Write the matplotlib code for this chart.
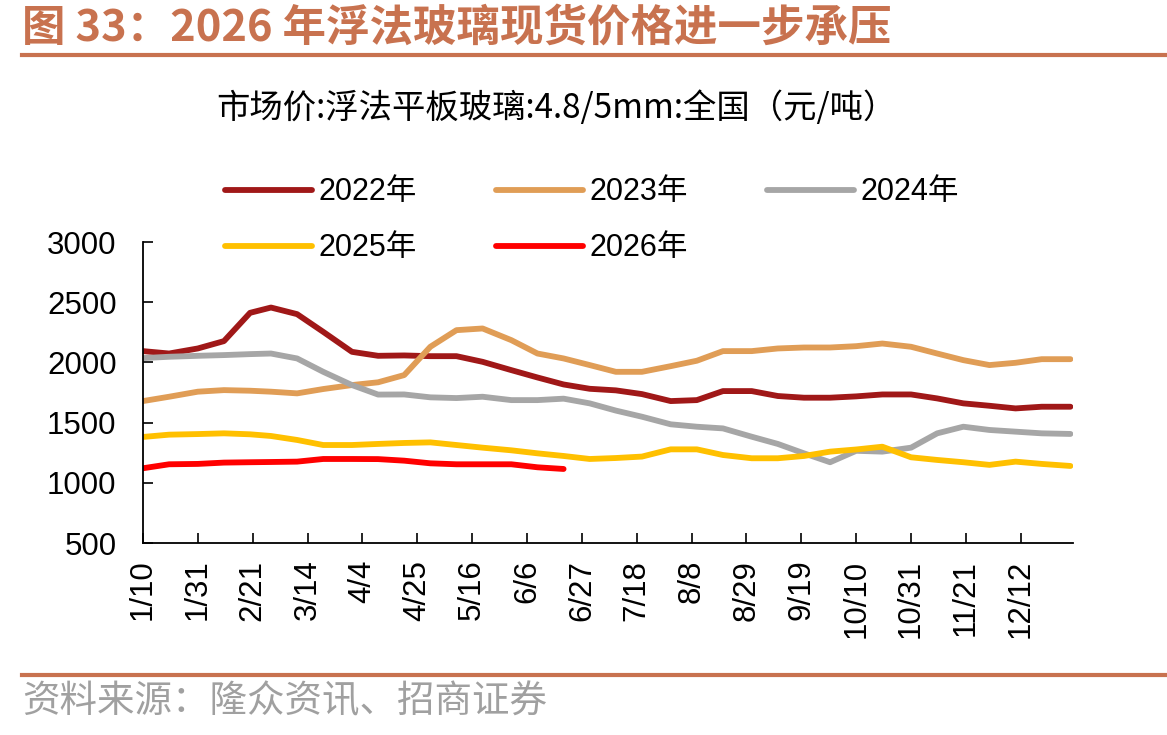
import pandas as pd
import matplotlib
matplotlib.use('Agg')
from matplotlib import pyplot as plt
from matplotlib.lines import Line2D

# 10-day (旬) observations: 10th, 20th and end of each month
dates = ['1/10', '1/20', '1/31', '2/10', '2/20', '2/28', '3/10', '3/20', '3/31',
         '4/10', '4/20', '4/30', '5/10', '5/20', '5/31', '6/10', '6/20', '6/30',
         '7/10', '7/20', '7/31', '8/10', '8/20', '8/31', '9/10', '9/20', '9/30',
         '10/10', '10/20', '10/31', '11/10', '11/20', '11/30', '12/10', '12/20', '12/31']

y2022 = [2094, 2074, 2116, 2177, 2412, 2456, 2401, 2254, 2088, 2055,
         2058, 2052, 2052, 2005, 1936, 1875, 1817, 1781, 1768, 1737,
         1679, 1687, 1762, 1762, 1721, 1707, 1707, 1718, 1734, 1734,
         1701, 1660, 1640, 1618, 1632, 1632]
y2023 = [1679, 1715, 1757, 1770, 1765, 1757, 1743, 1779, 1812, 1835,
         1895, 2130, 2268, 2282, 2185, 2074, 2033, 1978, 1922, 1922,
         1969, 2014, 2094, 2094, 2116, 2124, 2124, 2135, 2157, 2130,
         2074, 2019, 1978, 1997, 2027, 2027]
y2024 = [2036, 2047, 2055, 2061, 2069, 2074, 2033, 1922, 1812, 1733,
         1734, 1710, 1704, 1715, 1687, 1687, 1699, 1660, 1600, 1549,
         1486, 1466, 1452, 1383, 1323, 1245, 1171, 1266, 1259, 1292,
         1411, 1466, 1439, 1425, 1411, 1406]
y2025 = [1381, 1400, 1405, 1411, 1403, 1389, 1356, 1314, 1314, 1323,
         1331, 1336, 1314, 1292, 1270, 1245, 1223, 1198, 1206, 1218,
         1278, 1278, 1231, 1204, 1204, 1223, 1259, 1277, 1300, 1212,
         1190, 1171, 1149, 1176, 1157, 1140]
y2026 = [1121, 1154, 1157, 1168, 1171, 1173, 1176, 1198, 1198, 1197,
         1184, 1162, 1154, 1154, 1154, 1129, 1115]

tick_labels = ['1/10', '1/31', '2/21', '3/14', '4/4', '4/25', '5/16', '6/6', '6/27',
               '7/18', '8/8', '8/29', '9/19', '10/10', '10/31', '11/21', '12/12']

series = [('2022年', y2022, '#A01818'),
          ('2023年', y2023, '#E09D56'),
          ('2024年', y2024, '#A6A6A6'),
          ('2025年', y2025, '#FFC000'),
          ('2026年', y2026, '#FF0000')]


def doy(s):
    return pd.to_datetime('2022/' + s, format='%Y/%m/%d').dayofyear


x = [doy(d) for d in dates]
ticks = [doy(t) for t in tick_labels]

cjk = ['Noto Sans CJK SC', 'DejaVu Sans']
num = ['Liberation Sans', 'Noto Sans CJK SC']
accent = '#C8724F'

fig = plt.figure(figsize=(11.67, 7.35), dpi=100)
ax = fig.add_axes([0.1225, 0.2612, 0.797, 0.4095])

handles = {}
for name, vals, col in series:
    h, = ax.plot(x[:len(vals)], vals, color=col, lw=4.2, solid_capstyle='round',
                 solid_joinstyle='round', label=name)
    handles[name] = h

ax.set_xlim(10, 366)
ax.set_ylim(500, 3000)
ax.set_yticks([500, 1000, 1500, 2000, 2500, 3000])
ax.set_xticks(ticks)
ax.set_xticklabels(tick_labels, rotation=90, family=num, fontsize=22.5)
for lab in ax.get_yticklabels():
    lab.set_family(num)
    lab.set_fontsize(22.5)
ax.tick_params(axis='both', direction='in', length=7, width=1.2, color='black')
ax.tick_params(axis='y', pad=19)
ax.tick_params(axis='x', pad=12)
for side in ['top', 'right']:
    ax.spines[side].set_visible(False)
for side in ['left', 'bottom']:
    ax.spines[side].set_linewidth(1.3)

order = ['2022年', '2025年', '2023年', '2026年', '2024年']
fig.legend([handles[k] for k in order], order, loc='upper left',
           bbox_to_anchor=(0.1695, 0.796), ncol=3, frameon=False,
           prop={'family': num, 'size': 22}, handlelength=2.85,
           handletextpad=0.2, columnspacing=2.6, labelspacing=0.85)

fig.text(0.019, 0.962, '图 33：2026 年浮法玻璃现货价格进一步承压', family=cjk,
         fontsize=31.3, fontweight='bold', color=accent, va='center', ha='left')
fig.add_artist(Line2D([0.019, 1.0], [0.925, 0.925], transform=fig.transFigure,
                      color=accent, lw=3))
fig.text(0.4764, 0.853, '市场价:浮法平板玻璃:4.8/5mm:全国（元/吨）', family=cjk,
         fontsize=24, color='black', va='center', ha='center')
fig.add_artist(Line2D([0.019, 1.0], [0.0816, 0.0816], transform=fig.transFigure,
                      color=accent, lw=3))
fig.text(0.019, 0.045, '资料来源：隆众资讯、招商证券', family=cjk,
         fontsize=27, color='#A0A0A0', va='center', ha='left')

fig.savefig('out.png', dpi=100)
